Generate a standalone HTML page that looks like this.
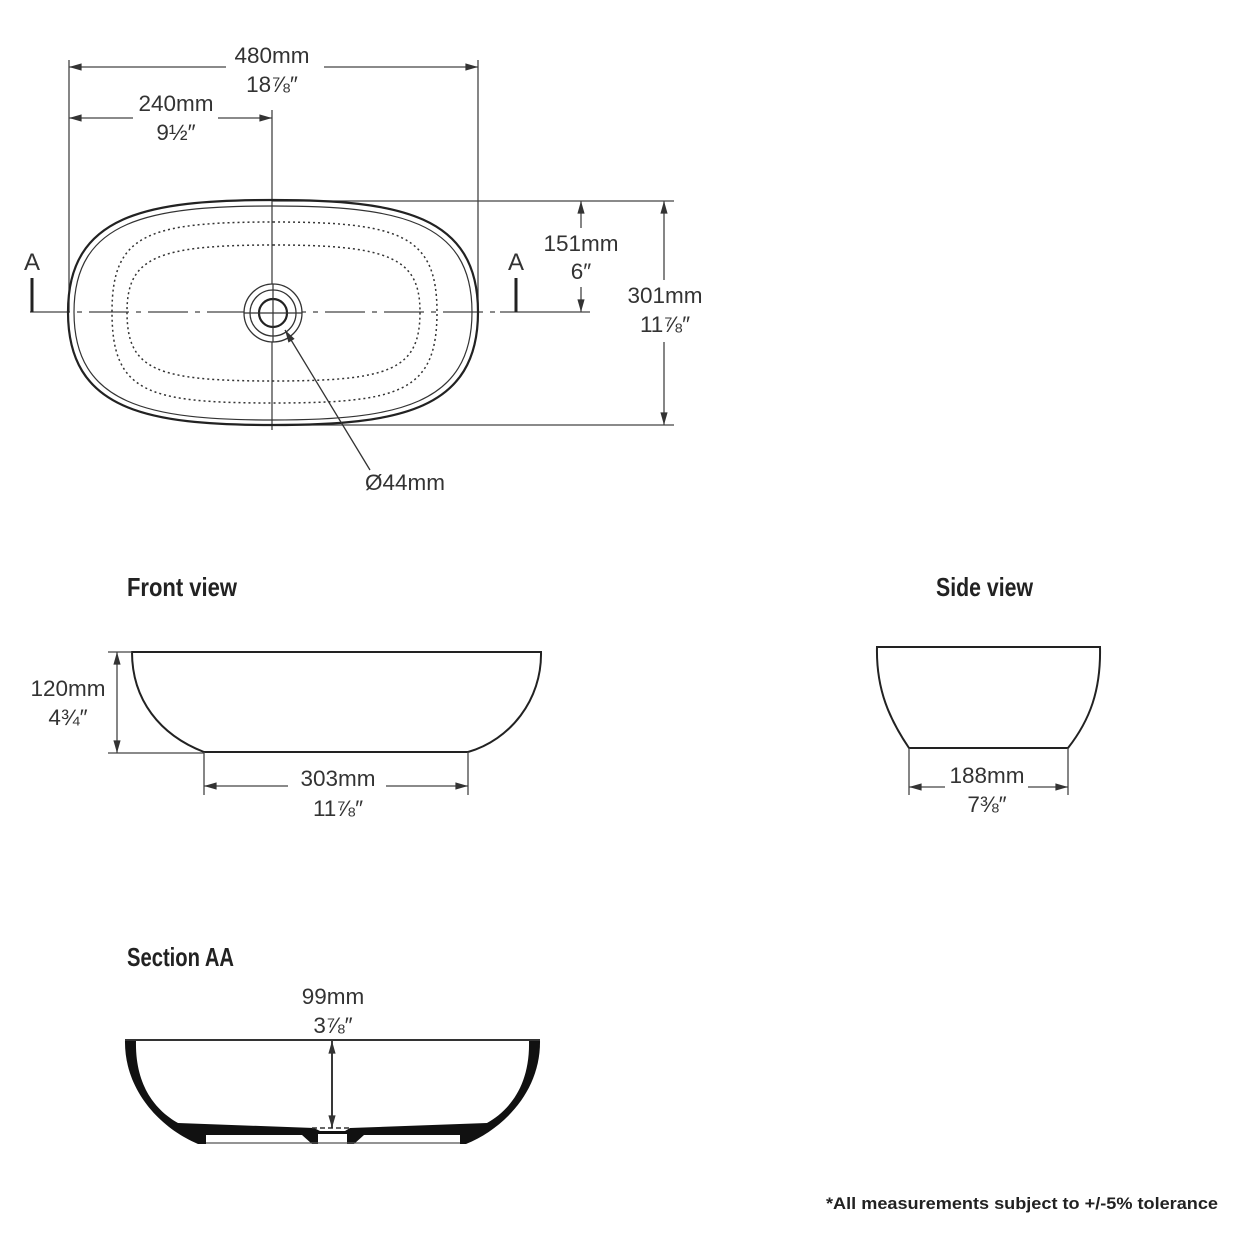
<!DOCTYPE html>
<html><head><meta charset="utf-8"><style>
html,body{margin:0;padding:0;background:#fff;}
svg{display:block;}
text{font-family:"Liberation Sans",sans-serif;fill:#333;}
.d{font-size:22.5px;text-anchor:middle;}
.t{font-family:"Liberation Sans",sans-serif;font-weight:bold;font-size:26px;fill:#222;}
</style></head><body>
<svg width="1240" height="1240" viewBox="0 0 1240 1240" xmlns="http://www.w3.org/2000/svg">
<defs>
<marker id="a" viewBox="0 0 14 10" refX="14" refY="5" markerWidth="14" markerHeight="9" orient="auto-start-reverse" markerUnits="userSpaceOnUse"><path d="M0,1 L14,5 L0,9 Z" fill="#333"/></marker>
</defs>
<g stroke="#444" stroke-width="1.3" fill="none">
<line x1="69" y1="60" x2="69" y2="312"/>
<line x1="478" y1="60" x2="478" y2="312"/>
<line x1="272" y1="110" x2="272" y2="430"/>
<line x1="272" y1="201" x2="674" y2="201"/>
<line x1="272" y1="425" x2="674" y2="425"/>
<line x1="69" y1="67" x2="226" y2="67" marker-start="url(#a)"/>
<line x1="324" y1="67" x2="478" y2="67" marker-end="url(#a)"/>
<line x1="69" y1="118" x2="133" y2="118" marker-start="url(#a)"/>
<line x1="218" y1="118" x2="272" y2="118" marker-end="url(#a)"/>
<line x1="581" y1="201" x2="581" y2="228" marker-start="url(#a)"/>
<line x1="581" y1="287" x2="581" y2="312" marker-end="url(#a)"/>
<line x1="500" y1="312" x2="590" y2="312"/>
<line x1="664" y1="201" x2="664" y2="280" marker-start="url(#a)"/>
<line x1="664" y1="342" x2="664" y2="425" marker-end="url(#a)"/>
<line x1="30" y1="312" x2="500" y2="312" stroke-dasharray="40,7,5,7"/>
</g>
<path d="M273,200 C400,200 478,215 478,312 C478,410 400,425 273,425 C146,425 68,410 68,312 C68,215 146,200 273,200 Z" fill="none" stroke="#222" stroke-width="2.2"/>
<path d="M273,206 C397,206 472,220 472,312 C472,405 397,420 273,420 C149,420 74,405 74,312 C74,220 149,206 273,206 Z" fill="none" stroke="#333" stroke-width="1.2"/>
<path d="M273,222 C400,222 437,235 437,312 C437,392 400,403 273,403 C146,403 112,392 112,312 C112,235 146,222 273,222 Z" fill="none" stroke="#333" stroke-width="1.5" stroke-dasharray="2,3"/>
<path d="M273,245 C390,245 420,258 420,312 C420,370 390,381 273,381 C156,381 127,370 127,312 C127,258 156,245 273,245 Z" fill="none" stroke="#333" stroke-width="1.5" stroke-dasharray="2,3"/>
<circle cx="273" cy="313" r="29" fill="#fff" stroke="#333" stroke-width="1.3"/>
<circle cx="273" cy="313" r="23" fill="none" stroke="#333" stroke-width="1.3"/>
<circle cx="273" cy="313" r="14" fill="none" stroke="#222" stroke-width="2.2"/>
<line x1="244" y1="313" x2="302" y2="313" stroke="#333" stroke-width="1.2"/>
<line x1="273" y1="284" x2="273" y2="342" stroke="#333" stroke-width="1.2"/>
<line x1="370" y1="470" x2="285" y2="330" stroke="#333" stroke-width="1.3" marker-end="url(#a)"/>
<path d="M32,278 V312 M516,278 V312" stroke="#222" stroke-width="3"/>
<text x="32" y="270" class="d" style="font-size:24px">A</text>
<text x="516" y="270" class="d" style="font-size:24px">A</text>
<text x="272" y="63" class="d">480mm</text>
<text x="272" y="92" class="d">18⅞″</text>
<text x="176" y="111" class="d">240mm</text>
<text x="176" y="140" class="d">9½″</text>
<text x="581" y="251" class="d">151mm</text>
<text x="581" y="279" class="d">6″</text>
<text x="665" y="303" class="d">301mm</text>
<text x="665" y="332" class="d">11⅞″</text>
<text x="405" y="490" class="d">Ø44mm</text>

<text x="127" y="596" class="t" textLength="110" lengthAdjust="spacingAndGlyphs">Front view</text>
<path d="M132,652 L541,652 C542,700 510,740 468,752 L204,752 C160,735 132,700 132,652 Z" fill="none" stroke="#222" stroke-width="2"/>
<g stroke="#444" stroke-width="1.3" fill="none">
<line x1="108" y1="652" x2="132" y2="652"/>
<line x1="108" y1="753" x2="204" y2="753"/>
<line x1="117" y1="652" x2="117" y2="753" marker-start="url(#a)" marker-end="url(#a)"/>
<line x1="204" y1="752" x2="204" y2="795"/>
<line x1="468" y1="752" x2="468" y2="795"/>
<line x1="204" y1="786" x2="288" y2="786" marker-start="url(#a)"/>
<line x1="386" y1="786" x2="468" y2="786" marker-end="url(#a)"/>
</g>
<text x="68" y="696" class="d">120mm</text>
<text x="68" y="725" class="d">4¾″</text>
<text x="338" y="786" class="d">303mm</text>
<text x="338" y="816" class="d">11⅞″</text>

<text x="936" y="596" class="t" textLength="97" lengthAdjust="spacingAndGlyphs">Side view</text>
<path d="M877,647 L1100,647 C1101,690 1090,720 1068,748 L909,748 C890,720 876,690 877,647 Z" fill="none" stroke="#222" stroke-width="2"/>
<g stroke="#444" stroke-width="1.3" fill="none">
<line x1="909" y1="748" x2="909" y2="795"/>
<line x1="1068" y1="748" x2="1068" y2="795"/>
<line x1="909" y1="787" x2="945" y2="787" marker-start="url(#a)"/>
<line x1="1028" y1="787" x2="1068" y2="787" marker-end="url(#a)"/>
</g>
<text x="987" y="783" class="d">188mm</text>
<text x="987" y="812" class="d">7⅜″</text>

<text x="127" y="966" class="t" textLength="107" lengthAdjust="spacingAndGlyphs">Section AA</text>
<text x="333" y="1004" class="d">99mm</text>
<text x="333" y="1033" class="d">3⅞″</text>
<path d="M125,1040 L540,1040 C541,1090 505,1128 466,1144 L198,1144 C160,1128 124,1090 125,1040 Z" fill="#111"/>
<path d="M136,1041 L529,1041 C530,1085 510,1110 487,1123 L350,1128 L345,1131 L320,1131 L314,1128 L178,1123 C155,1110 135,1085 136,1041 Z" fill="#fff"/>
<path d="M206,1135 L302,1135 L312,1144 L206,1144 Z M364,1135 L460,1135 L460,1144 L354,1144 Z" fill="#fff"/>
<rect x="318" y="1134" width="29" height="10" fill="#fff"/>
<line x1="206" y1="1143" x2="460" y2="1143" stroke="#555" stroke-width="1.2"/>
<line x1="125" y1="1040" x2="540" y2="1040" stroke="#333" stroke-width="2"/>
<line x1="312" y1="1128" x2="352" y2="1128" stroke="#333" stroke-width="1.5" stroke-dasharray="5,3"/>
<line x1="332" y1="1041" x2="332" y2="1128" stroke="#222" stroke-width="1.8" marker-start="url(#a)" marker-end="url(#a)"/>

<text x="826" y="1209" style="font-size:17px;font-weight:bold;fill:#222" textLength="392" lengthAdjust="spacingAndGlyphs">*All measurements subject to +/-5% tolerance</text>
</svg>
</body></html>
